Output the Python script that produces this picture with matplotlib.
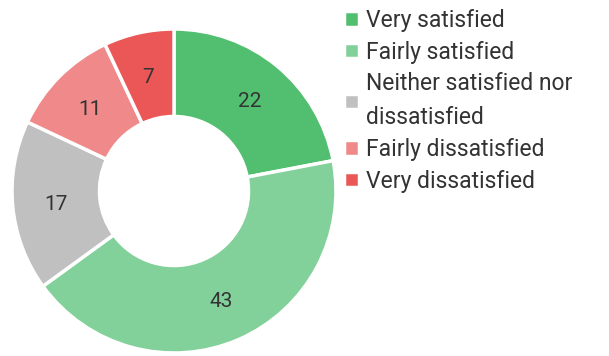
import matplotlib

matplotlib.use("Agg")
import matplotlib.pyplot as plt

plt.rcParams["font.family"] = ["Roboto", "DejaVu Sans"]

categories = ["Very satisfied", "Fairly satisfied",
              "Neither satisfied nor\ndissatisfied",
              "Fairly dissatisfied", "Very dissatisfied"]
values = [22, 43, 17, 11, 7]
colors = ["#52bf70", "#83d19a", "#c0c0c0", "#f08a8a", "#eb5757"]

W, H = 609, 356
fig = plt.figure(figsize=(W / 100, H / 100), dpi=100)
cx, cy, r = 174, 191, 162
ax = fig.add_axes([(cx - r) / W, (H - cy - r) / H, 2 * r / W, 2 * r / H])

wedges, texts = ax.pie(values, colors=colors, startangle=90, counterclock=False,
                       radius=1.0, labels=[str(v) for v in values],
                       labeldistance=0.73,
                       wedgeprops=dict(width=0.54, edgecolor="white", linewidth=2.5),
                       textprops=dict(fontsize=15, color="#333333",
                                      ha="center", va="center_baseline"))
ax.set_xlim(-1, 1)
ax.set_ylim(-1, 1)
ax.set_aspect("equal")

leg = fig.legend(wedges, categories, loc="upper left",
                 bbox_to_anchor=(344 / W, 1 - 9 / H), frameon=False,
                 fontsize=16.5, handlelength=0.65, handleheight=0.65,
                 handletextpad=0.3, labelspacing=0.38, borderpad=0,
                 borderaxespad=0, labelcolor="#333333")
for t in leg.get_texts():
    t.set_linespacing(1.6)

fig.savefig("out.png", dpi=100)
